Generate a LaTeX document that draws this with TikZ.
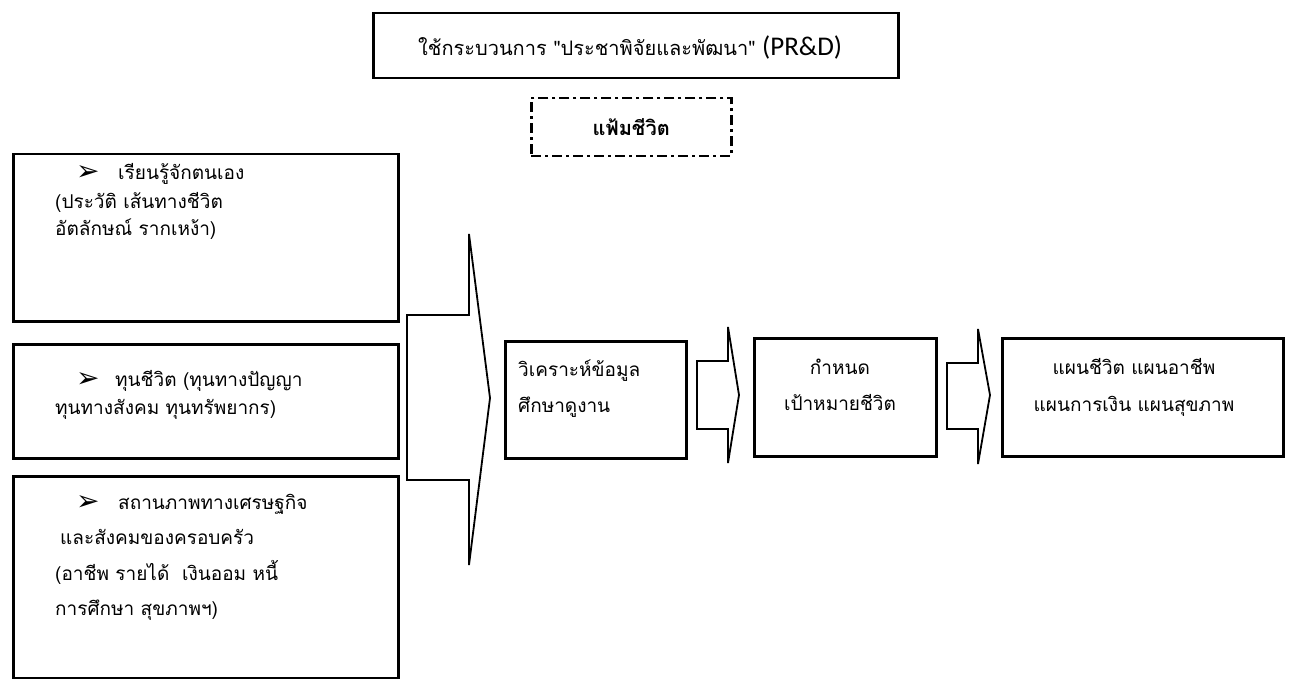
\documentclass[tikz,border=0pt]{standalone}
\usepackage{fontspec}
\newfontfamily\thai[Script=Thai]{Loma}
\newfontfamily\dejavu{DejaVu Sans}
\newfontfamily\carl{Carlito}
\begin{document}
\begin{tikzpicture}[x=1pt,y=-1pt,
  box/.style={draw, line width=2.5pt, inner sep=0pt, anchor=north west},
  blockarrow/.style={draw, line width=1.8pt, line join=miter, fill=white},
  txt/.style={font=\thai\fontsize{19}{22}\selectfont, inner sep=0pt, anchor=base west},
  ctxt/.style={font=\thai\fontsize{19}{22}\selectfont, inner sep=0pt, anchor=base},
  bul/.style={font=\dejavu\fontsize{28}{30}\selectfont, inner sep=0pt, anchor=base west},
]
\useasboundingbox (0,0) rectangle (1290,679);
\fill[white] (0,0) rectangle (1290,679);

% title
\node[box, minimum width=525pt, minimum height=65pt] (title) at (372,12) {};
\node[anchor=base west, inner sep=0pt] (titletxt) at (418,56)
  {\thai\fontsize{20}{24}\selectfont ใช้กระบวนการ "ประชาพิจัยและพัฒนา"\ {\carl\fontsize{27}{30}\selectfont (PR\&D)}};

% dashed box
\node[draw, line width=2.5pt, dash pattern=on 10pt off 4pt on 3pt off 4pt, inner sep=0pt,
  anchor=north west, minimum width=200pt, minimum height=58pt] (folder) at (530,97) {};
\node[inner sep=0pt, font=\thai\bfseries\fontsize{20}{22}\selectfont] (foldertxt) at (folder.center) {แฟ้มชีวิต};

% left boxes
\node[box, minimum width=385pt, minimum height=167pt] (b1) at (12,153) {};
\node[bul] (b1u) at (76,181) {➢};
\node[txt] (b1a) at (118,180) {เรียนรู้จักตนเอง};
\node[txt] (b1b) at (55,208) {(ประวัติ เส้นทางชีวิต};
\node[txt] (b1c) at (55,236) {อัตลักษณ์ รากเหง้า)};

\node[box, minimum width=385pt, minimum height=114pt] (b2) at (12,343) {};
\node[bul] (b2u) at (76,387) {➢};
\node[txt] (b2a) at (115,386) {ทุนชีวิต (ทุนทางปัญญา};
\node[txt] (b2b) at (55,414) {ทุนทางสังคม ทุนทรัพยากร)};

\node[box, minimum width=385pt, minimum height=202pt] (b3) at (12,475) {};
\node[bul] (b3u) at (76,510) {➢};
\node[txt] (b3a) at (118,509) {สถานภาพทางเศรษฐกิจ};
\node[txt] (b3b) at (60,544) {และสังคมของครอบครัว};
\node[txt] (b3c) at (55,580) {(อาชีพ รายได้\ \ เงินออม หนี้};
\node[txt] (b3d) at (55,615) {การศึกษา สุขภาพฯ)};

% big arrow
\draw[blockarrow] (407,315) -- (469,315) -- (469,234) -- (490,398) -- (469,565)
  -- (469,480) -- (407,480) -- cycle;

% analyse box
\node[box, minimum width=181pt, minimum height=117pt] (ana) at (504,340) {};
\node[txt] (anaa) at (518,376) {วิเคราะห์ข้อมูล};
\node[txt] (anab) at (518,412) {ศึกษาดูงาน};

% arrow 1
\draw[blockarrow] (697,361) -- (728,361) -- (728,327) -- (739,395) -- (728,463)
  -- (728,429) -- (697,429) -- cycle;

% goal box
\node[box, minimum width=182pt, minimum height=118pt] (goal) at (753,337) {};
\node[ctxt] (goala) at (840,374) {กำหนด};
\node[ctxt] (goalb) at (840,410) {เป้าหมายชีวิต};

% arrow 2
\draw[blockarrow] (947,363) -- (978,363) -- (978,329) -- (990,395) -- (978,464)
  -- (978,429) -- (947,429) -- cycle;

% plan box
\node[box, minimum width=281pt, minimum height=118pt] (plan) at (1001,337) {};
\node[ctxt] (plana) at (1134,374) {แผนชีวิต แผนอาชีพ};
\node[ctxt] (planb) at (1134,411) {แผนการเงิน แผนสุขภาพ};
\end{tikzpicture}
\end{document}
